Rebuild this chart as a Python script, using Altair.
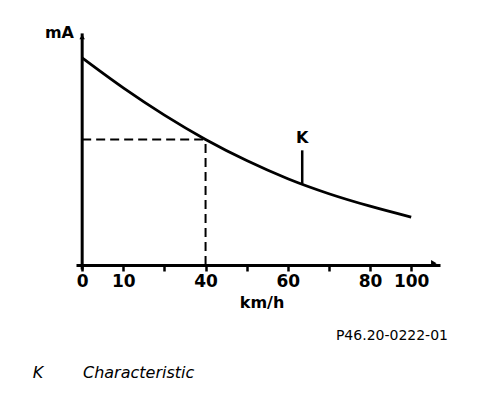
import altair as alt
import pandas as pd

# Curve K: position along the speed axis (tick index) vs current (relative units)
curve_pos = [0, 1, 2, 3, 4, 5, 6, 7, 8]
curve_val = [91.2, 78.0, 66.0, 55.3, 46.0, 38.0, 31.4, 25.9, 21.1]

tick_pos = [0, 1, 2, 3, 4, 5, 6, 7, 8]
tick_labels = ["0", "10", "", "40", "", "60", "", "80", "100"]

ref_pos = 3
ref_val = 55.3

k_pos = 5.35
k_low, k_high, k_text = 35.8, 50.5, 56.0

X0, X1 = -0.15, 8.7
Y0, Y1 = 0, 103.5

curve = pd.DataFrame({"x": curve_pos, "y": curve_val})

expr = "''"
for p, lab in zip(reversed(tick_pos), reversed(tick_labels)):
    expr = f"datum.value == {p} ? '{lab}' : ({expr})"

xs = alt.Scale(domain=[X0, X1], nice=False, zero=False)
ys = alt.Scale(domain=[Y0, Y1], nice=False, zero=False)

FONT = "DejaVu Sans"

base_x = alt.X("x:Q", scale=xs, axis=alt.Axis(
    values=tick_pos, labelExpr=expr, title=None, grid=False,
    domain=True, domainColor="black", domainWidth=3,
    ticks=True, tickColor="black", tickWidth=2.5, tickSize=6,
    labelFont=FONT, labelFontWeight="bold", labelFontSize=17, labelColor="black",
    labelPadding=2, labelOverlap=False, labelFlush=False))

line = alt.Chart(curve).mark_line(color="black", strokeWidth=2.8, interpolate="monotone").encode(
    x=base_x, y=alt.Y("y:Q", scale=ys, axis=None))

yaxis = alt.Chart(pd.DataFrame({"x": [0], "y": [-2], "y2": [102]})).mark_rule(
    color="black", strokeWidth=3).encode(x=alt.X("x:Q", scale=xs), y=alt.Y("y:Q", scale=ys), y2="y2:Q")

yarrow = alt.Chart(pd.DataFrame({"x": [0], "y": [100.5]})).mark_point(
    shape="triangle-up", filled=True, color="black", size=30, opacity=1).encode(
    x=alt.X("x:Q", scale=xs), y=alt.Y("y:Q", scale=ys))

xarrow = alt.Chart(pd.DataFrame({"x": [8.55], "y": [0.8]})).mark_point(
    shape="triangle-right", filled=True, color="black", size=40, opacity=1).encode(
    x=alt.X("x:Q", scale=xs), y=alt.Y("y:Q", scale=ys))

dash_h = alt.Chart(pd.DataFrame({"x": [0], "x2": [ref_pos], "y": [ref_val]})).mark_rule(
    color="black", strokeWidth=2, strokeDash=[9, 5]).encode(
    x=alt.X("x:Q", scale=xs), x2="x2:Q", y=alt.Y("y:Q", scale=ys))

dash_v = alt.Chart(pd.DataFrame({"x": [ref_pos], "y": [0], "y2": [ref_val]})).mark_rule(
    color="black", strokeWidth=2, strokeDash=[9, 5]).encode(
    x=alt.X("x:Q", scale=xs), y=alt.Y("y:Q", scale=ys), y2="y2:Q")

k_rule = alt.Chart(pd.DataFrame({"x": [k_pos], "y": [k_low], "y2": [k_high]})).mark_rule(
    color="black", strokeWidth=2.5).encode(
    x=alt.X("x:Q", scale=xs), y=alt.Y("y:Q", scale=ys), y2="y2:Q")

k_label = alt.Chart(pd.DataFrame({"x": [k_pos], "y": [k_text], "t": ["K"]})).mark_text(
    font=FONT, fontWeight="bold", fontSize=16, color="black", baseline="middle").encode(
    x=alt.X("x:Q", scale=xs), y=alt.Y("y:Q", scale=ys), text="t:N")

def label(txt, px, py, **kw):
    return alt.Chart(pd.DataFrame({"t": [txt]})).mark_text(color="black", font=FONT, **kw).encode(
        x=alt.value(px), y=alt.value(py), text="t:N")

ma = label("mA", -2, 3, fontWeight="bold", fontSize=16, align="right", baseline="middle")
kmh = label("km/h", 186, 273, fontWeight="bold", fontSize=16, align="center", baseline="middle")
code = label("P46.20-0222-01", 372, 306, fontSize=14, fontWeight=500, align="right", baseline="middle")
kleg = label("K", -38, 343, fontSize=16, fontStyle="italic", fontWeight=500, align="center", baseline="middle")
cleg = label("Characteristic", 7, 343, fontSize=16, fontStyle="italic", fontWeight=500, align="left", baseline="middle")

chart = alt.layer(line, yaxis, yarrow, xarrow, dash_h, dash_v, k_rule, k_label,
                  ma, kmh, code, kleg, cleg).properties(
    width=364, height=235,
    autosize=alt.AutoSizeParams(type="none"),
    padding={"left": 68, "top": 22, "right": 48, "bottom": 123},
    background="white",
).configure_view(stroke=None)

chart.save("out.html", embed_options={"renderer": "svg", "actions": False})
